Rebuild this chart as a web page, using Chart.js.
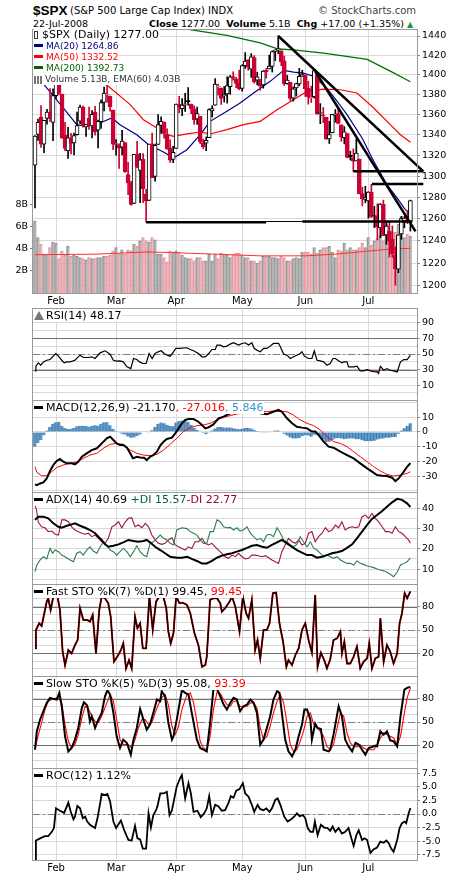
<!DOCTYPE html>
<html lang="en">
<head>
<meta charset="UTF-8">
<title>$SPX Daily - 22-Jul-2008</title>
<script src="https://cdn.jsdelivr.net/npm/chart.js@4.4.1/dist/chart.umd.min.js"></script>
<style>
  * { margin: 0; padding: 0; box-sizing: border-box; }
  body { width: 460px; height: 880px; background: #fff; position: relative; overflow: hidden;
         font-family: 'DejaVu Sans', sans-serif; color: #000; }
  canvas { position: absolute; left: 0; }
  .t { position: absolute; white-space: nowrap; }
  .leg { position: absolute; left: 34px; white-space: nowrap; z-index: 5; }
  .leg > div { display: table; background: #fff; padding-right: 1px; }
  .big { font-size: 11px; line-height: 12px; }
  .sm { font-size: 9px; line-height: 11px; }
  .dash { display: inline-block; width: 9px; height: 3px; background: #000; vertical-align: middle; margin: 0 3px 2px 0; }
  .ico { display: inline-block; width: 9px; height: 8px; margin-right: 2px; vertical-align: middle;
         background: repeating-linear-gradient(90deg, #777 0 2px, transparent 2px 3px); }
  .tri { display: inline-block; width: 0; height: 0; border-left: 5px solid transparent; border-right: 5px solid transparent;
         border-bottom: 9px solid #777; margin-right: 2px; vertical-align: -1px; }
</style>
</head>
<body>
<div class="t" style="left:33px;top:3px;font-family:'Liberation Sans',sans-serif;font-size:13.5px;font-weight:bold">$SPX</div>
<div class="t" style="left:70px;top:5px;font-size:10px">(S&amp;P 500 Large Cap Index) INDX</div>
<div class="t" style="left:318px;top:5px;font-size:10px;color:#444">&copy; StockCharts.com</div>
<div class="t" style="left:33px;top:18px;font-size:9.5px">22-Jul-2008</div>
<div class="t" style="left:149px;top:18px;font-size:9.5px"><b>Close</b> 1277.00 &nbsp;<b>Volume</b> 5.1B &nbsp;<b>Chg</b> +17.00 (+1.35%) <span style="color:#1a9a3a;font-size:8px">&#9650;</span></div>

<canvas id="cMain" width="460" height="288" style="top:20px"></canvas>
<canvas id="cRsi" width="460" height="93" style="top:308px"></canvas>
<canvas id="cMacd" width="460" height="93" style="top:400px"></canvas>
<canvas id="cAdx" width="460" height="93" style="top:492px"></canvas>
<canvas id="cFast" width="460" height="93" style="top:584px"></canvas>
<canvas id="cSlow" width="460" height="93" style="top:676px"></canvas>
<canvas id="cRoc" width="460" height="112" style="top:768px"></canvas>

<div class="leg" style="top:29px">
  <div class="big"><span class="ico" style="background:none;border:1px solid #333;width:4px;margin-right:4px"></span>$SPX (Daily) 1277.00</div>
  <div class="sm" style="color:#000080"><span class="dash" style="background:#000080"></span>MA(20) 1264.86</div>
  <div class="sm" style="color:#ff0000"><span class="dash" style="background:#ff0000"></span>MA(50) 1332.52</div>
  <div class="sm" style="color:#006400"><span class="dash" style="background:#006400"></span>MA(200) 1392.73</div>
  <div class="sm" style="color:#333"><span class="ico"></span>Volume 5.13B, EMA(60) 4.03B</div>
</div>
<div class="leg" style="top:310px"><div class="big"><span class="tri"></span>RSI(14) 48.17</div></div>
<div class="leg" style="top:402px"><div class="big"><span class="dash"></span>MACD(12,26,9) -21.170<span style="color:#ff0000">, -27.016</span><span style="color:#3399cc">, 5.846</span></div></div>
<div class="leg" style="top:494px"><div class="big"><span class="dash"></span>ADX(14) 40.69 <span style="color:#006633">+DI 15.57</span> <span style="color:#990033">-DI 22.77</span></div></div>
<div class="leg" style="top:586px"><div class="big"><span class="dash"></span>Fast STO %K(7) %D(1) 99.45, <span style="color:#ff0000">99.45</span></div></div>
<div class="leg" style="top:678px"><div class="big"><span class="dash"></span>Slow STO %K(5) %D(3) 95.08, <span style="color:#ff0000">93.39</span></div></div>
<div class="leg" style="top:770px"><div class="big"><span class="dash"></span>ROC(12) 1.12%</div></div>

<script>
// trading days are numbered 0 (23-Jan-2008) .. 125 (22-Jul-2008)
const monthTicks = [7, 27, 47, 69, 90, 111];
const monthLabels = ['Feb', 'Mar', 'Apr', 'May', 'Jun', 'Jul'];
const prevClose = 1310.5;

const open = [
  1310.4, 1340.1, 1357.3, 1330.7, 1355.9, 1362.2, 1352.0, 1378.6, 1395.4, 1380.3,
  1339.5, 1324.0, 1336.9, 1331.9, 1340.0, 1353.1, 1367.3, 1347.5, 1355.9, 1348.4,
  1362.2, 1344.2, 1352.8, 1371.8, 1379.0, 1378.2, 1364.1, 1330.5, 1329.6, 1327.7,
  1332.2, 1301.5, 1293.2, 1274.4, 1321.1, 1305.3, 1316.1, 1283.2, 1277.2, 1331.0,
  1299.7, 1330.3, 1349.1, 1352.4, 1340.3, 1327.0, 1315.9, 1326.4, 1370.0, 1365.7,
  1369.9, 1373.7, 1370.2, 1365.5, 1355.4, 1358.0, 1332.2, 1331.7, 1337.0, 1363.4,
  1369.0, 1387.7, 1386.4, 1378.4, 1380.5, 1387.8, 1398.0, 1395.6, 1391.2, 1386.0,
  1409.2, 1415.3, 1405.6, 1417.5, 1394.3, 1394.9, 1389.4, 1404.4, 1405.7, 1408.4,
  1423.9, 1425.3, 1424.5, 1414.1, 1390.8, 1392.2, 1376.0, 1386.5, 1390.5, 1398.4,
  1399.6, 1386.4, 1376.3, 1377.5, 1400.1, 1360.8, 1359.0, 1357.1, 1335.8, 1341.8,
  1358.9, 1360.7, 1349.6, 1336.9, 1341.0, 1319.8, 1317.2, 1314.5, 1316.3, 1283.6,
  1278.1, 1276.7, 1285.0, 1263.0, 1262.9, 1251.8, 1273.4, 1245.3, 1248.7, 1241.6,
  1226.8, 1214.6, 1246.3, 1258.2, 1261.8, 1257.1
];
const high = [
  1339.1, 1355.2, 1368.6, 1354.0, 1364.9, 1385.9, 1385.6, 1396.0, 1395.4, 1380.3,
  1352.0, 1347.2, 1341.2, 1341.4, 1362.1, 1369.2, 1368.2, 1350.0, 1367.3, 1363.7,
  1367.9, 1354.3, 1374.4, 1387.3, 1388.3, 1378.2, 1364.1, 1335.1, 1331.0, 1344.2,
  1332.2, 1313.2, 1295.0, 1320.7, 1333.3, 1321.7, 1321.5, 1287.5, 1330.7, 1341.5,
  1330.7, 1359.7, 1357.5, 1352.4, 1345.6, 1334.9, 1328.5, 1370.2, 1378.0, 1375.7,
  1380.9, 1386.7, 1370.2, 1368.4, 1367.2, 1358.0, 1335.6, 1337.7, 1365.5, 1368.6,
  1395.9, 1390.2, 1386.4, 1387.8, 1397.7, 1399.1, 1402.9, 1397.0, 1404.6, 1410.1,
  1422.7, 1415.3, 1421.6, 1419.5, 1402.4, 1394.9, 1404.1, 1406.3, 1420.2, 1424.4,
  1425.8, 1440.2, 1424.5, 1419.1, 1399.1, 1392.2, 1387.4, 1391.3, 1406.3, 1404.5,
  1399.6, 1393.1, 1388.2, 1404.4, 1400.1, 1370.6, 1366.8, 1357.1, 1353.0, 1360.0,
  1364.7, 1366.6, 1349.6, 1347.7, 1341.0, 1323.8, 1326.0, 1335.6, 1316.3, 1289.5,
  1290.3, 1285.3, 1292.2, 1271.5, 1274.0, 1274.2, 1277.4, 1257.7, 1257.3, 1253.5,
  1234.4, 1245.5, 1262.3, 1262.2, 1267.7, 1277.4
];
const low = [
  1270.0, 1334.3, 1327.5, 1322.3, 1350.3, 1353.0, 1334.1, 1375.9, 1379.7, 1336.6,
  1324.3, 1316.8, 1321.1, 1320.3, 1339.4, 1350.8, 1347.3, 1338.1, 1345.0, 1336.8,
  1339.3, 1327.0, 1346.0, 1363.3, 1372.0, 1363.2, 1325.4, 1320.0, 1307.4, 1320.2,
  1303.4, 1282.4, 1272.7, 1274.4, 1307.9, 1274.9, 1274.9, 1257.0, 1277.2, 1298.4,
  1295.2, 1330.3, 1341.2, 1336.4, 1325.7, 1313.0, 1312.8, 1326.4, 1361.6, 1358.7,
  1362.8, 1369.0, 1360.6, 1350.0, 1350.1, 1331.2, 1326.2, 1324.3, 1337.0, 1357.3,
  1369.0, 1379.3, 1369.8, 1372.2, 1371.1, 1380.0, 1394.4, 1386.7, 1384.5, 1383.1,
  1406.3, 1404.4, 1397.1, 1391.2, 1389.4, 1384.1, 1386.2, 1396.3, 1405.7, 1402.6,
  1414.4, 1421.6, 1409.1, 1388.8, 1390.2, 1373.7, 1373.1, 1378.2, 1388.6, 1398.1,
  1377.8, 1370.1, 1371.7, 1376.2, 1359.9, 1350.7, 1351.6, 1335.5, 1331.3, 1341.7,
  1352.1, 1350.5, 1333.4, 1330.9, 1317.5, 1315.3, 1304.4, 1314.5, 1283.2, 1272.0,
  1274.9, 1260.7, 1261.5, 1252.0, 1240.7, 1242.8, 1244.6, 1236.8, 1225.4, 1225.0,
  1200.4, 1211.4, 1241.4, 1251.8, 1255.7, 1248.8
];
const close = [
  1338.6, 1352.1, 1330.6, 1354.0, 1362.3, 1355.8, 1378.6, 1395.4, 1380.8, 1336.6,
  1326.5, 1336.9, 1331.3, 1339.1, 1348.9, 1367.2, 1348.9, 1350.0, 1348.8, 1360.0,
  1342.5, 1353.1, 1371.8, 1381.3, 1380.0, 1367.7, 1330.6, 1331.3, 1326.8, 1333.7,
  1304.3, 1293.4, 1273.4, 1320.7, 1308.8, 1315.5, 1288.1, 1276.6, 1330.7, 1298.4,
  1329.5, 1349.9, 1353.0, 1341.1, 1325.8, 1315.2, 1322.7, 1370.2, 1367.5, 1369.3,
  1370.4, 1372.5, 1365.5, 1354.5, 1360.6, 1332.8, 1328.3, 1334.4, 1364.7, 1365.6,
  1390.3, 1388.2, 1375.9, 1379.9, 1388.8, 1397.8, 1396.4, 1390.9, 1385.6, 1409.3,
  1413.9, 1407.5, 1418.3, 1392.6, 1397.7, 1388.3, 1403.6, 1403.0, 1408.7, 1423.6,
  1425.4, 1426.6, 1413.4, 1390.7, 1394.4, 1375.9, 1385.4, 1390.8, 1398.3, 1400.4,
  1385.7, 1377.7, 1377.2, 1404.1, 1360.7, 1361.8, 1358.4, 1335.5, 1339.9, 1360.0,
  1360.1, 1350.9, 1337.8, 1342.8, 1317.9, 1318.0, 1314.3, 1322.0, 1283.2, 1278.4,
  1280.0, 1284.9, 1261.5, 1262.9, 1252.3, 1273.7, 1244.7, 1253.4, 1239.5, 1228.3,
  1214.9, 1245.4, 1260.3, 1260.7, 1260.0, 1277.0
];
// volume in billions
const volume = [
  6.5, 5.0, 4.4, 3.5, 3.5, 4.1, 4.6, 4.5, 3.1, 3.8,
  3.4, 4.2, 3.3, 3.4, 3.3, 3.2, 3.1, 3.0, 3.2, 3.1,
  3.1, 3.2, 3.2, 3.3, 3.3, 3.4, 3.8, 4.1, 3.5, 3.9,
  3.5, 3.9, 3.8, 4.4, 4.2, 4.7, 5.0, 4.7, 4.6, 5.0,
  4.8, 3.5, 3.5, 3.2, 2.8, 3.8, 3.7, 3.8, 3.7, 3.4,
  3.2, 3.1, 3.1, 2.9, 3.2, 3.2, 2.9, 2.9, 3.5, 2.9,
  3.5, 3.1, 3.6, 3.5, 3.4, 3.2, 3.5, 3.6, 3.6, 3.4,
  3.2, 3.2, 2.9, 2.9, 2.7, 2.9, 3.3, 3.3, 3.3, 3.2,
  3.2, 3.1, 3.3, 3.2, 2.9, 2.9, 3.1, 3.2, 3.1, 3.7,
  3.7, 3.7, 3.5, 4.1, 3.6, 3.9, 4.1, 4.1, 4.2, 3.7,
  3.2, 3.9, 3.8, 4.5, 3.9, 4.1, 3.9, 3.9, 4.1, 4.5,
  4.1, 5.0, 4.3, 4.7, 4.9, 5.2, 4.7, 6.2, 5.4, 5.5,
  5.5, 6.2, 6.9, 5.0, 5.3, 5.13
];
const volEma = [[0, 3.45], [20, 3.5], [37, 3.7], [45, 3.65], [60, 3.5], [75, 3.35], [90, 3.35], [100, 3.5], [110, 3.75], [118, 3.95], [125, 4.03]];

// moving averages as [day, value]
const ma20 = [[0, 1400], [3, 1389.7], [9.4, 1366.3], [13.9, 1349.7], [17.2, 1348.1], [22.2, 1352.1], [25.6, 1356.3], [28.3, 1349.7],
  [33.9, 1339.9], [37.8, 1330.1], [42.8, 1323.1], [46.1, 1317.3], [50.6, 1325.3], [55, 1339.9], [58.3, 1353.0], [63.9, 1363.0],
  [68.3, 1371.3], [72.8, 1381.3], [78.3, 1393.1], [82.8, 1404.4], [86.1, 1402.6], [89.4, 1401.6], [92.8, 1398.2], [97.2, 1386.3],
  [100.6, 1373.0], [103.9, 1359.6], [108.9, 1336.7], [112.8, 1314.1], [117.2, 1291.8], [120.6, 1279.3], [123.3, 1268.5], [125, 1264.86]];
const ma50 = [[18, 1402], [24.4, 1388.1], [31.7, 1369.6], [36.1, 1354.6], [40.6, 1346.4], [43.3, 1340.6], [46.1, 1338.3], [50.6, 1340.6],
  [55, 1342.5], [58.3, 1340.6], [63.9, 1344.8], [69.4, 1349.7], [75, 1353.0], [80.6, 1364.5], [86.1, 1374.6], [90.6, 1383.0],
  [96.1, 1385.3], [101.7, 1384.6], [107.2, 1381.3], [112.8, 1366.3], [118.3, 1349.7], [121.7, 1339.9], [125, 1332.52]];
const ma200 = [[47, 1449], [63.9, 1440.7], [75, 1432.7], [81, 1426.4], [86.1, 1425.6], [96.1, 1422.2], [107.2, 1417.1],
  [110.6, 1415.7], [118.3, 1403.5], [125, 1392.73]];

// hand drawn trend lines [day, price]
const trendA = [[81, 1440], [129.3, 1304.5]];
const trendB = [[93.3, 1403.4], [126.7, 1248.6]];
const level1305 = [[106, 1304.5], [129.3, 1304.5]];
const level1292 = [[112.2, 1292.5], [129.3, 1292.5]];
const support1 = [[37, 1257], [77, 1257]];
const support2 = [[77, 1257.6], [89, 1257.6]];
const support3 = [[89, 1257.6], [125.6, 1257.6]];

const rsi = [[0, 28.3], [0.3, 34.3], [1.1, 38.6], [1.9, 35.6], [2.8, 39.9], [3.9, 42], [5, 42.9], [6.1, 47.2], [6.9, 50.6], [7.8, 47.2],
  [8.9, 42], [9.7, 38.6], [10.6, 39.9], [11.7, 39.9], [13.3, 42], [15, 48.5], [16.1, 45.5], [17.8, 45.5], [18.9, 46.4], [20, 44.2],
  [21.7, 51.5], [23.3, 54.1], [25, 49.8], [26.1, 42], [27.2, 40.8], [28.3, 41.2], [29.4, 39.9], [30.6, 33.5], [31.9, 31.3], [32.8, 44.2],
  [33.9, 42.9], [34.8, 39.9], [35.9, 37.8], [37, 37.8], [38, 50.6], [39, 44.2], [40, 50.6], [41, 52.8], [42, 54.1], [43, 50.6],
  [44, 48.5], [45, 47.2], [46.1, 52.8], [46.9, 57.1], [48.3, 57.1], [50.6, 58], [51.7, 55.8], [52.8, 54.1], [54.4, 50.6], [55.6, 46.4],
  [56.7, 46.4], [57.8, 50.6], [58.9, 55.8], [60, 55.8], [60.6, 61.4], [61.7, 61.4], [62.8, 59.2], [63.9, 60.1], [65, 62.7], [66.1, 64.4],
  [67.8, 61.4], [68.9, 63.5], [70, 64.4], [71.1, 61.4], [72.2, 64.4], [73, 57.1], [73.9, 55], [75, 52.8], [76.1, 57.1], [77.2, 57.1],
  [78.3, 60.1], [79.4, 63.5], [81.1, 63.5], [81.7, 59.2], [82.8, 49.8], [83.9, 48.5], [85, 44.2], [86.1, 46.4], [87.2, 48.5], [88.3, 50.6],
  [88.9, 52.8], [89.7, 47.2], [91.1, 44.2], [92.2, 44.2], [93, 54.1], [93.9, 42], [95, 41.2], [96.1, 39.9], [97.2, 35.6], [98.3, 37.8],
  [99.2, 44.2], [100, 44.2], [101.1, 41.2], [102.2, 38.6], [102.8, 39.9], [103.9, 39.9], [104.4, 33.5], [106.1, 33.5], [107.2, 34.3],
  [108.3, 28.3], [109.4, 28.3], [110.6, 30], [111.7, 28.3], [112.8, 27.5], [113.9, 27], [114.4, 24.9], [115, 34.3], [116.1, 29.2],
  [117.2, 31.3], [118.3, 29.2], [119.4, 28.3], [120.6, 27], [121.7, 39.9], [122.8, 42.9], [123.9, 42.9], [125, 48.17]];

const macd = [[0, -35.5], [0.6, -36], [1.7, -34.9], [2.8, -34.2], [3.9, -31.5], [5, -26.5], [6.1, -22.4], [7.2, -19.7], [8.3, -18.4],
  [9.4, -20.2], [10.6, -21.3], [12.2, -21.3], [13.3, -22], [14.4, -20.2], [15.6, -16.8], [17.2, -14.5], [18.9, -12.3], [20.6, -11.1],
  [21.7, -8.9], [22.8, -6.6], [23.9, -4.4], [25, -3.2], [26.1, -5.5], [27.2, -7.8], [28.3, -8.9], [29.4, -8.9], [30.6, -10.7],
  [31.7, -14.5], [32.6, -17.9], [33.9, -16.8], [35, -17.3], [36.3, -17.5], [37.2, -19.1], [38.3, -16.8], [39.4, -15.7], [40.6, -13.4],
  [41.7, -9.3], [42.8, -6.6], [43.9, -4.8], [45.6, -3.9], [46.7, -1], [47.8, 2.4], [48.9, 5.8], [50, 8.1], [51.1, 8.7], [52.8, 8.7],
  [54.4, 6.9], [55.6, 4.7], [56.7, 2.4], [57.8, 3.1], [59.4, 5.1], [61.1, 9.2], [62.8, 10.3], [65, 12.6], [67.5, 14.5], [70.5, 15.5],
  [73, 15], [75, 12.6], [77.2, 11.9], [78.9, 13.3], [81.1, 14.9], [82.2, 13.7], [83.9, 9.2], [85.6, 5.8], [87.2, 3.5], [88.9, 2.9],
  [90.6, 2.4], [92.2, 0.2], [93.3, 0.2], [94.4, -2.1], [96.1, -6.6], [97.8, -10], [99.4, -10.7], [101.7, -13.4], [103.9, -15.7],
  [106.1, -17.9], [108.3, -21.3], [110.6, -24.7], [112.2, -26.9], [113.9, -29.2], [115.6, -29.7], [117.2, -29.9], [118.9, -31],
  [120, -33.3], [121.1, -31.5], [122.8, -26.9], [123.9, -23.6], [125, -21.17]];
const macdSignal = [[0, -23.6], [0.6, -27.4], [2.2, -29.7], [3.9, -29.7], [5.6, -26.9], [7.2, -24.2], [9.4, -22.4], [11.7, -21.3],
  [13.9, -20.2], [16.1, -17.9], [18.3, -15.7], [20.6, -14.5], [22.8, -11.1], [25, -8.4], [27.2, -7.8], [29.4, -8.4], [31.7, -12.3],
  [33.9, -14.5], [36.1, -15.7], [38.3, -16.1], [40.6, -15.2], [42.8, -12.3], [45, -8.4], [47.2, -4.4], [49.4, 0.2], [51.7, 2.9],
  [53.9, 4.2], [56.1, 4.7], [58.3, 5.8], [60.6, 8.1], [62.8, 9.9], [65, 11], [67.2, 12.1], [69.4, 12.6], [71.1, 13.3], [74, 13.6],
  [77.2, 13.7], [79.4, 14.2], [81.7, 13.7], [83.9, 13.7], [86.1, 11.4], [88.3, 8.1], [90.6, 5.8], [92.8, 4.2], [95, 1.3], [97.2, -3.2],
  [99.4, -6.6], [101.7, -7.8], [103.9, -10], [106.1, -13.4], [108.3, -16.8], [110.6, -20.2], [112.8, -23.6], [115, -26.5],
  [117.2, -28.8], [119.4, -29.9], [121.7, -29.2], [123.9, -28.1], [125, -27.02]];
const macdHist = [
  -10, -7.5, -5.5, -2.3, 1.0, 3.4, 5.5, 6.6, 6.8, 4.0,
  2.7, 1.9, 2.2, 2.6, 3.8, 4.1, 4.1, 4.0, 3.5, 4.1,
  4.5, 4.2, 5.5, 6.6, 6.5, 4.5, 2.2, 0.6, -0.5, -1.2,
  -1.8, -3.2, -4.0, -3.8, -2.8, -1.8, 0.0, 0.3, -0.3, 1.1,
  3.4, 5.5, 6.3, 5.8, 4.8, 4.0, 3.8, 6.3, 7.3, 7.7,
  7.7, 6.9, 4.8, 2.6, 1.4, 0.2, -0.8, -1.6, -0.3, 1.0,
  2.3, 3.4, 3.4, 3.0, 2.9, 2.9, 2.5, 2.2, 1.8, 2.2,
  2.7, 2.7, 2.3, 1.4, 0.6, -0.3, -0.5, -0.5, -0.3, 0.2,
  0.9, 0.9, 0.2, -1.2, -2.5, -3.8, -4.4, -4.5, -4.2, -3.0,
  -2.3, -2.5, -3.3, -2.0, -2.0, -3.5, -5.2, -6.8, -6.7, -5.6,
  -4.5, -4.2, -4.4, -4.9, -4.7, -4.5, -4.5, -4.9, -5.0, -5.7,
  -6.3, -6.3, -6.3, -6.0, -5.2, -4.6, -4.5, -4.0, -3.9, -3.4,
  -3.4, -1.3, 0.9, 2.5, 4.2, 5.85
];

const adx = [[0, 34.3], [1.1, 35.9], [2.8, 35.9], [4.4, 35.1], [6.1, 32.6], [7.8, 30.9], [8.9, 30.4], [10.6, 31.4], [12.2, 32.1],
  [13.3, 32.6], [15, 31.4], [16.7, 30.4], [18.3, 29.3], [20, 27.7], [21.1, 26], [22.2, 24.4], [23.3, 22.2], [24.4, 21], [26.1, 21.5],
  [27.8, 22.2], [29.4, 23.2], [31.1, 24.4], [32.8, 23.9], [34.4, 23.5], [36.1, 23.9], [37.2, 24.4], [38.3, 23.2], [40, 21], [41.7, 19.4],
  [43.3, 17.8], [45, 16.1], [47.2, 15.6], [48.9, 15.6], [50.6, 16.1], [52.2, 15], [53.9, 14], [55.6, 12.8], [57.2, 12.8], [58.9, 14],
  [60.6, 15.6], [62.2, 16.6], [63.9, 17.3], [65.6, 17.8], [67.2, 18.6], [68.9, 19.4], [70.6, 20.5], [72.2, 21.5], [73.9, 21.9],
  [75.6, 21], [77.2, 20.5], [78.9, 21.9], [80.6, 23.2], [82.2, 24.4], [83.9, 22.7], [85.6, 21], [87.2, 19.4], [88.9, 18.1], [90.6, 16.9],
  [92.2, 16.9], [93.9, 15.6], [95.6, 16.1], [97.2, 16.9], [98.9, 17.8], [100.6, 18.3], [102.2, 18.9], [103.9, 20.5], [105.6, 22.2],
  [107.2, 25.2], [108.9, 28.5], [110.6, 31.8], [112.2, 34.8], [113.9, 36.7], [115.6, 38.7], [117.2, 40.8], [118.9, 43], [120.6, 44.7],
  [122.2, 44.2], [123.9, 42.5], [125, 40.69]];
const plusDI = [[0, 8.7], [0.6, 12], [1.7, 14.5], [2.8, 16.1], [3.9, 15], [5, 20.2], [5.9, 17.8], [6.7, 19.4], [7.8, 18.6], [8.9, 16.9],
  [10, 16.1], [11.7, 14.5], [12.8, 13.6], [13.9, 17.8], [15, 18.6], [16.1, 16.9], [17.2, 19.4], [18.3, 21], [19.4, 18.9], [20.6, 17.8],
  [21.7, 21], [22.8, 23.5], [23.9, 21.9], [25, 19.4], [26.1, 18.6], [27.2, 16.9], [28.3, 18.6], [29.4, 20.2], [30.6, 18.6], [31.7, 16.1],
  [32.8, 18.6], [33.9, 21.5], [35, 18.6], [36.1, 16.9], [37.2, 16.1], [38.3, 22.7], [39.4, 23.5], [40.6, 25.2], [41.7, 26.8], [42.8, 25.2],
  [43.9, 24.4], [45, 22.7], [46.1, 21.9], [47.2, 29.3], [48.9, 30.4], [50.6, 30], [51.7, 28.5], [52.8, 27.7], [53.9, 26.8], [55, 24.4],
  [56.1, 22.7], [57.2, 22.7], [58.3, 28.5], [59.4, 28.5], [60.6, 34.3], [61.7, 33.4], [62.8, 30.9], [63.9, 30.4], [65, 30.6], [66.1, 29.3],
  [67.2, 30.4], [68.3, 28.8], [69.4, 29.3], [70.6, 30.9], [71.7, 27.7], [72.8, 26], [73.9, 24.4], [75, 25.2], [76.1, 23.5], [77.2, 26.8],
  [78.3, 27.2], [79.4, 26], [80.6, 30.4], [81.7, 27.7], [82.8, 24.4], [83.9, 23.5], [85, 21.9], [86.1, 21], [87.2, 22.2], [88.3, 26],
  [89.4, 23.5], [90.6, 21], [91.7, 23.5], [92.8, 20.2], [93.9, 19.4], [95, 17.8], [96.1, 16.1], [97.2, 16.9], [98.3, 16.1], [99.4, 15.3],
  [100.6, 16.1], [101.7, 14.5], [102.8, 13.6], [103.9, 12.8], [105, 12.8], [106.1, 12], [107.2, 14], [108.3, 12.8], [109.4, 12.3],
  [110.6, 11.5], [111.7, 11.1], [112.8, 10.7], [113.9, 10], [115, 9.5], [116.1, 9.1], [117.2, 8.4], [118.3, 7.4], [119.4, 6.2],
  [120.6, 8.4], [121.7, 12], [122.8, 12.8], [123.9, 13.6], [125, 15.57]];
const minusDI = [[0, 41.7], [0.5, 39.2], [1.1, 33.1], [2.2, 30.9], [3.3, 30.4], [4.4, 28.5], [5.6, 28.8], [6.7, 27.2], [7.8, 26.8],
  [8.9, 34.3], [10, 34.3], [11.1, 33.4], [12.2, 30.9], [13.3, 29.3], [14.4, 28.5], [15.6, 27.7], [16.7, 27.2], [17.8, 27.7], [18.9, 26],
  [20, 26.8], [21.1, 25.2], [22.2, 23.5], [23.3, 22.7], [24.4, 25.2], [25.6, 30.9], [26.7, 31.8], [27.8, 33.4], [28.9, 30.4], [30, 33.1],
  [31.1, 35.1], [32.2, 35.4], [33.3, 30.9], [34.4, 31.8], [35.6, 30.4], [36.7, 32.6], [37.8, 30.9], [38.9, 26.8], [40, 24.4], [41.1, 22.7],
  [42.2, 22.2], [43.3, 22.7], [44.4, 24.4], [45.6, 25.5], [46.7, 21.9], [47.8, 21], [48.9, 20.2], [50, 19.4], [51.1, 21], [52.2, 20.2],
  [53.3, 23.5], [54.4, 23.5], [55.6, 25.2], [56.7, 22.7], [57.8, 21.9], [58.9, 22.7], [60, 21], [61.1, 19.4], [62.2, 17.8], [63.3, 16.1],
  [64.4, 15.3], [65.6, 16.9], [66.7, 16.1], [67.8, 17.8], [68.9, 16.1], [70, 15], [71.1, 15.3], [72.2, 16.9], [73.3, 16.9], [74.4, 16.6],
  [75.6, 16.1], [76.7, 16.6], [77.8, 15.6], [78.9, 14.5], [80, 13.6], [81.1, 12.8], [82.2, 18.6], [83.3, 21.9], [84.4, 25.2], [85.6, 23.5],
  [86.7, 22.7], [87.8, 24.4], [88.9, 21.9], [90, 22.7], [91.1, 27.7], [92.2, 28.5], [93.3, 23.5], [94.4, 26], [95.6, 27.7], [96.7, 30.4],
  [97.8, 28.5], [98.9, 29.3], [100, 31.8], [101.1, 30.4], [102.2, 33.4], [103.3, 29.3], [104.4, 30.4], [105.6, 30.9], [106.7, 30.4],
  [107.8, 30.9], [108.9, 35.9], [110, 36.7], [111.1, 35.1], [112.2, 37.5], [113.3, 35.1], [114.4, 33.4], [115.6, 30.9], [116.7, 28.5],
  [117.8, 28.5], [118.9, 27.7], [120, 30.9], [121.1, 28.5], [122.2, 27.7], [123.3, 26], [124.4, 24.4], [125, 22.77]];

const fastK = [[0, 26.4], [0.3, 50], [1.4, 58.6], [2.2, 55.1], [3.1, 71.5], [3.9, 86.4], [4.4, 90.7], [5.2, 75.7], [6.1, 92.8], [6.7, 95],
  [7.4, 95], [8.3, 75.7], [9.2, 22.1], [10, 5], [11.1, 24.3], [12.2, 20], [13.3, 30.7], [14.2, 37.1], [15, 77.9], [16.1, 62.9],
  [17.4, 62.9], [18.3, 60.7], [19.2, 69.3], [20.3, 20], [21.4, 75.7], [22.2, 92.8], [23.3, 90.7], [24.4, 84.3], [25.2, 67.1], [26.3, 9.3],
  [27.4, 15.7], [28.6, 24.3], [29.4, 32.9], [30.3, 0.7], [31.3, 11.4], [32.2, 0.7], [33.3, 67.1], [34.1, 52.2], [35, 58.6], [35.9, 26.4],
  [37, 26.4], [38.1, 92.8], [39.2, 50], [40.3, 86.4], [41.4, 92.8], [42.6, 95], [43.7, 77.9], [44.4, 47.9], [45.2, 32.9], [46.1, 45.8],
  [47, 92.8], [48.1, 84.3], [49.2, 85.1], [50.6, 82.1], [51.7, 71.5], [53.1, 45.8], [54.4, 30.7], [55.6, 2.9], [56.7, 5], [57.2, 15.7],
  [58.3, 88.6], [59.4, 90.7], [60.6, 90.7], [61.7, 84.3], [62.2, 73.5], [63.3, 77.9], [64.8, 86.4], [65.6, 92.8], [66.7, 80], [68.1, 47.9],
  [69.2, 92.8], [70.3, 71.5], [71.1, 65], [72.2, 88.6], [73.3, 24.3], [74.1, 37.1], [75, 13.6], [76.1, 50], [77.2, 50], [78.1, 58.6],
  [79.2, 97.2], [80.3, 98], [81.4, 58.6], [82.6, 35], [83.7, 2.9], [84.4, 11.4], [85.6, 5], [86.7, 17.9], [87.8, 26.4], [88.9, 50],
  [90, 58.6], [91.1, 37.1], [92.2, 20.8], [93.3, 95], [94.1, 2.9], [95.2, 20.8], [96.3, 11.4], [97.2, 0.7], [98.3, 12.3], [99.4, 37.1],
  [100.6, 39.3], [101.7, 47.9], [102.2, 20], [103, 35], [103.9, 7.1], [105, 7.1], [106.1, 15.7], [107.2, 28.6], [108.3, 0.7], [109.4, 9.3],
  [110.6, 13.6], [111.3, 32.9], [112.2, 0.7], [113.3, 13.6], [114.4, 15.7], [115, 65], [116.1, 9.3], [117.2, 30.7], [118.3, 22.1],
  [119.4, 7.1], [120.6, 20], [121.4, 58.6], [122.2, 71.5], [123.1, 97.2], [123.9, 90.7], [125, 99.45]];

const slowK = [[0, 14.5], [0.6, 38], [1.7, 53.1], [2.8, 63.8], [3.9, 74.5], [5, 81], [6.1, 79.7], [7.2, 78.8], [8.1, 87.4], [8.9, 70.2],
  [10, 31.6], [11.1, 12.3], [12.2, 16.7], [13.3, 27.4], [14.4, 42.4], [15.6, 68.1], [16.3, 75.3], [17.4, 71.1], [18.3, 50.9], [18.9, 57.3],
  [20, 42.4], [21.1, 53.1], [22.2, 61.7], [23.3, 83], [24.1, 90.7], [25, 85.2], [26.1, 61.7], [27.2, 31.6], [28.3, 16.7], [29.4, 27.4],
  [30.6, 23.1], [31.9, 8.1], [32.8, 27.4], [33.9, 42.4], [35, 66.8], [36.1, 53.1], [37.2, 40.2], [38.3, 46.7], [39.4, 61.7], [40.6, 78.8],
  [41.7, 76.6], [42.2, 89.5], [43.3, 83], [44.4, 48.8], [45.6, 27.4], [46.1, 31.6], [47.2, 53.1], [48.9, 90.7], [50, 87.4], [51.1, 85.2],
  [52.2, 61.7], [53.9, 27.4], [55, 16.7], [56.1, 14.5], [57.2, 12.3], [58.3, 48.8], [59.4, 91.6], [60.6, 92.5], [61.7, 83], [62.8, 72.4],
  [63.9, 65.9], [65, 74.5], [66.1, 81], [67.2, 78.8], [68.3, 63.8], [69.4, 70.2], [70.6, 72.4], [71.7, 78.8], [72.8, 74.5], [73.9, 61.7],
  [75, 21], [76.1, 27.4], [77.2, 42.4], [78.3, 57.3], [79.4, 78.8], [80.6, 89.5], [81.4, 87.4], [82.2, 61.7], [83.3, 27.4], [84.4, 12.3],
  [85.6, 5.9], [86.7, 14.5], [87.8, 31.6], [88.9, 46.7], [89.7, 65.9], [90.6, 65.9], [91.7, 53.1], [92.2, 27.4], [93.3, 47.9], [94.1, 42.4],
  [95.2, 41.1], [96.1, 14.5], [97.8, 12.3], [98.3, 14.5], [99.4, 33.8], [100.6, 59.5], [101.1, 70.2], [102.2, 57.3], [103.3, 27.4],
  [104.4, 18.8], [105.6, 12.3], [106.7, 23.1], [107.8, 21], [108.9, 14.5], [110, 8.1], [111.1, 16.7], [112.2, 18], [113.3, 19.7],
  [113.9, 18.8], [115, 38], [116.1, 33.8], [117.2, 38], [118.3, 26.5], [119.4, 25.2], [120.6, 18.8], [121.7, 57.3], [123, 91.6],
  [123.9, 93.8], [125, 95.08]];
const slowD = [[0, 14.5], [1.1, 33.8], [2.2, 48.8], [3.3, 65.9], [4.4, 76.6], [6.1, 79.7], [7.8, 81], [8.9, 74.5], [10, 46.7], [11.1, 25.2],
  [12.2, 16.7], [13.3, 21], [14.4, 33.8], [15.6, 55.3], [16.7, 70.2], [17.8, 66.8], [18.9, 57.3], [20, 50.9], [21.1, 49.6], [22.2, 57.3],
  [23.9, 74.5], [25, 85.2], [26.1, 76.6], [27.2, 53.1], [28.3, 27.4], [29.4, 21], [31.1, 21], [32.2, 16.7], [33.3, 27.4], [34.4, 42.4],
  [35.6, 53.1], [36.7, 53.1], [37.8, 46.7], [38.9, 48.8], [40, 61.7], [41.1, 72.4], [42.2, 81], [43.3, 85.2], [44.4, 72.4], [45.6, 44.5],
  [46.7, 33.8], [47.8, 44.5], [48.9, 65.9], [50.6, 85.2], [51.7, 87.4], [52.8, 74.5], [53.9, 50.9], [55, 25.2], [56.1, 16.7], [57.2, 14.5],
  [58.3, 31.6], [59.4, 65.9], [60.6, 88.2], [61.7, 86.5], [62.8, 78.8], [63.9, 72.4], [65, 70.2], [66.1, 76.6], [67.2, 76.6], [68.3, 70.2],
  [69.4, 69.4], [70.6, 70.2], [71.7, 74.5], [72.8, 74.5], [73.9, 68.1], [75, 42.4], [76.1, 27.4], [77.2, 31.6], [78.3, 44.5], [79.4, 61.7],
  [80.6, 76.6], [81.7, 85.2], [82.8, 74.5], [83.9, 48.8], [85, 21], [86.1, 12.3], [87.2, 14.5], [88.3, 25.2], [89.4, 38], [90.6, 57.3],
  [91.7, 61.7], [92.8, 46.7], [93.9, 42.4], [95, 38], [96.1, 31.6], [97.2, 18.8], [98.3, 14.5], [99.4, 21], [100.6, 42.4], [101.7, 61.7],
  [102.8, 57.3], [103.9, 36], [105, 23.1], [106.1, 18.8], [107.2, 18], [108.3, 21], [109.4, 16.7], [110.6, 14.5], [111.7, 14.5],
  [112.8, 14.5], [113.9, 21], [115, 29.6], [116.1, 36], [117.2, 33.8], [118.3, 31.6], [119.4, 29.6], [120.6, 21], [121.7, 31.6],
  [122.8, 57.3], [123.9, 81], [125, 93.39]];

const roc = [[0, -8.4], [0.3, -4.9], [1.7, -4.5], [3.3, -4.1], [4.4, -4.1], [5.6, -3.3], [6.3, -2.6], [7, 1.05], [8.3, 0.6], [9.7, 0.2],
  [11.1, 2.1], [11.9, 0.4], [12.8, -1], [13.3, -0.5], [14.1, 1.5], [15, 1.05], [15.9, -0.8], [16.7, -0.5], [17.4, -1.4], [18.3, -2],
  [20, -2.6], [20.8, -0.8], [21.7, 2], [22.2, 3.7], [23.3, 3.5], [24.1, 3.7], [25, 2.3], [26.1, -1.4], [27, -2.6], [27.8, -1.9],
  [28.6, -1.2], [29.7, -3], [31.1, -4.8], [32.2, -4.9], [33.3, -2.2], [34.1, -4.5], [35, -4.7], [35.9, -6.4], [37, -6.4], [37.8, 0.1],
  [38.6, -2.5], [39.4, -0.2], [40.3, 0.7], [40.8, 1.5], [41.7, 3.8], [42.8, 3.8], [43.9, 4.1], [44.8, -0.2], [45.6, 0.7], [46.3, 2.6],
  [47.2, 5.1], [48.3, 6.6], [48.9, 7.2], [50, 2.9], [51.1, 5.7], [51.9, 3.8], [52.8, 0.4], [54.1, 0.6], [55.2, -0.6], [56.3, 0.1],
  [57.2, 1.05], [58, 3.3], [58.9, -0.2], [60, 1.7], [61.1, 1.4], [62.2, 0.6], [63.3, 0.7], [64.4, 2], [65.2, 3.3], [66.1, 3],
  [67, 4.3], [68.1, 4.6], [69.2, 5.7], [70, 3.8], [71.1, 3.2], [72.2, 1.7], [73, 0.4], [74.1, 1.7], [75, 0.9], [76.1, 0.7],
  [77, 1.05], [78.1, 0.4], [78.9, 1.05], [80, 2.6], [80.8, 2.9], [81.7, 1.7], [83, -0.5], [84.1, -1.4], [85.2, -1], [86.3, -0.5],
  [87.2, 0.1], [88.1, -0.4], [89.2, -0.2], [90, -0.8], [90.8, -2.6], [91.7, -3.3], [92.6, -3.3], [93.2, -1.4], [94.1, -3.9], [95.2, -2],
  [96.3, -2.5], [97.4, -2.6], [98.3, -3.1], [99.1, -2.3], [100, -3.3], [101.1, -2.6], [102.2, -3.6], [103.3, -3.3], [104.4, -2.6],
  [105.2, -4.2], [106.1, -5.9], [107, -3.9], [107.8, -3], [108.9, -4.8], [109.7, -4.5], [110.6, -4.8], [111.7, -7.2], [112.8, -6.5],
  [113.9, -6.2], [115, -5.1], [116.1, -5.3], [117, -4.9], [117.8, -5.4], [118.6, -6.4], [119.4, -7], [120.6, -4.8], [121.4, -2.6],
  [122.2, -1.7], [123.1, -1.4], [123.6, -1.7], [124.4, 0.1], [125, 1.12]];

// ---------- helpers ----------
const FONT = "'DejaVu Sans', sans-serif";
const X_MIN = -0.67, X_MAX = 127.2;
const GRID = '#d9d9d9';
const pts = arr => arr.map(([x, y]) => ({ x, y }));
const range = (a, b, step) => { const out = []; for (let v = a; v <= b + 1e-9; v += step) out.push(+v.toFixed(2)); return out; };

function fit(prop, size) {
  return s => { s[prop] = size; s.paddingTop = s.paddingBottom = s.paddingLeft = s.paddingRight = 0; };
}

function xAxis(showLabels, h) {
  return {
    type: 'linear', min: X_MIN, max: X_MAX, offset: false,
    afterBuildTicks: s => { s.ticks = monthTicks.map(v => ({ value: v })); },
    ticks: { display: showLabels, autoSkip: false, maxRotation: 0, color: '#000', padding: 2,
             font: { family: FONT, size: 10 }, callback: v => monthLabels[monthTicks.indexOf(v)] },
    grid: { color: GRID, drawTicks: false, offset: false },
    border: { display: false },
    afterFit: fit('height', h)
  };
}

function yAxis(min, max, gridVals, labelVals, fmt, type) {
  return {
    type: type || 'linear', position: 'right', min, max,
    afterBuildTicks: s => { s.ticks = gridVals.map(v => ({ value: v })); },
    ticks: { autoSkip: false, color: '#000', padding: 2, font: { family: FONT, size: 9.5 },
             callback: v => labelVals.includes(v) ? fmt(v) : '' },
    grid: { color: GRID, tickLength: 3,
            tickColor: c => (c.tick && labelVals.includes(c.tick.value)) ? '#888' : 'rgba(0,0,0,0)' },
    border: { display: false },
    afterFit: fit('width', 43)
  };
}

// grey frame round each panel
const frame = {
  id: 'frame',
  afterDraw(chart) {
    const { ctx, chartArea: a } = chart;
    ctx.save();
    ctx.strokeStyle = '#9a9a9a';
    ctx.lineWidth = 1;
    ctx.strokeRect(Math.round(a.left) - 0.5, Math.round(a.top) + 0.5, Math.round(a.right - a.left) + 1, Math.round(a.bottom - a.top));
    ctx.restore();
  }
};

// signal levels (30/70, 20/80, zero lines)
const guides = {
  id: 'guides',
  beforeDatasetsDraw(chart, args, opts) {
    const { ctx, chartArea: a, scales: { y } } = chart;
    (opts.lines || []).forEach(g => {
      const py = Math.round(y.getPixelForValue(g.value)) + 0.5;
      ctx.save();
      ctx.strokeStyle = g.color;
      ctx.lineWidth = 1;
      ctx.setLineDash(g.dash || []);
      ctx.beginPath();
      ctx.moveTo(a.left, py);
      ctx.lineTo(a.right, py);
      ctx.stroke();
      ctx.restore();
    });
  }
};

const DASHDOT = [7, 3, 2, 3];

function baseOptions(extra) {
  return Object.assign({
    responsive: false, animation: false, events: [],
    plugins: { legend: { display: false }, tooltip: { enabled: false } },
    layout: { padding: { left: 33, top: 0, bottom: 1, right: 0 } }
  }, extra);
}

function line(data, color, width, extra) {
  return Object.assign({ type: 'line', data: pts(data), borderColor: color, borderWidth: width,
    pointRadius: 0, tension: 0, fill: false }, extra || {});
}

// ---------- main price panel ----------
const isUp = close.map((c, i) => c >= (i ? close[i - 1] : prevClose));
const candleColor = isUp.map(u => u ? '#000000' : '#cc0033');

new Chart(document.getElementById('cMain'), {
  type: 'bar',
  data: {
    datasets: [
      { type: 'bar', yAxisID: 'yv', order: 10, grouped: false, barThickness: 3,
        data: volume.map((v, i) => ({ x: i, y: v })),
        backgroundColor: isUp.map(u => u ? 'rgba(170,170,170,0.85)' : 'rgba(236,170,178,0.85)'),
        borderColor: isUp.map(u => u ? '#8f8f8f' : '#e0909a'), borderWidth: { left: 1, top: 1 } },
      line(volEma, '#ff3030', 1, { yAxisID: 'yv', order: 9 }),
      line(ma200, '#007000', 1.3, { yAxisID: 'y', order: 6 }),
      line(ma50, '#ff0000', 1.2, { yAxisID: 'y', order: 6 }),
      line(ma20, '#00008b', 1.2, { yAxisID: 'y', order: 6 }),
      { type: 'bar', yAxisID: 'y', order: 3, grouped: false, barThickness: 1,
        data: close.map((c, i) => ({ x: i, y: [low[i], high[i]] })),
        backgroundColor: candleColor, borderWidth: 0 },
      { type: 'bar', yAxisID: 'y', order: 2, grouped: false, barThickness: 4,
        data: close.map((c, i) => ({ x: i, y: [open[i], c] })),
        backgroundColor: close.map((c, i) => c > open[i] ? '#ffffff' : candleColor[i]),
        borderColor: candleColor, borderWidth: 1, borderSkipped: false },
      line(trendA, '#000', 2.5, { yAxisID: 'y', order: 0, clip: false }),
      line(trendB, '#000', 2.5, { yAxisID: 'y', order: 0, clip: false }),
      line(level1305, '#000', 2.5, { yAxisID: 'y', order: 0, clip: false }),
      line(level1292, '#000', 2.5, { yAxisID: 'y', order: 0, clip: false }),
      line(support1, '#000', 2.5, { yAxisID: 'y', order: 0 }),
      line(support2, '#000', 1.2, { yAxisID: 'y', order: 0 }),
      line(support3, '#000', 2.5, { yAxisID: 'y', order: 0 })
    ]
  },
  options: baseOptions({
    layout: { padding: { left: 0, top: 9, bottom: 0, right: 0 } },
    scales: {
      x: xAxis(true, 15),
      y: yAxis(1193.6, 1447.4, range(1200, 1440, 20), range(1200, 1440, 20), v => String(v), 'logarithmic'),
      yv: {
        type: 'linear', position: 'left', min: 0, max: 23.8,
        afterBuildTicks: s => { s.ticks = [2, 4, 6, 8].map(v => ({ value: v })); },
        ticks: { autoSkip: false, color: '#000', padding: 2, font: { family: FONT, size: 9.5 }, callback: v => v + 'B' },
        grid: { drawOnChartArea: false, tickLength: 3, tickColor: '#888' },
        border: { display: false },
        afterFit: fit('width', 33)
      }
    }
  }),
  plugins: [frame]
});

// ---------- RSI ----------
new Chart(document.getElementById('cRsi'), {
  type: 'line',
  data: { datasets: [ line(rsi, '#000', 1.2, { fill: { target: { value: 30 }, above: 'rgba(0,0,0,0)', below: '#a8607c' } }) ] },
  options: baseOptions({
    scales: { x: xAxis(false, 0), y: yAxis(-9, 109, range(0, 100, 10), [10, 30, 50, 70, 90], v => String(v)) },
    plugins: { legend: { display: false }, tooltip: { enabled: false },
      guides: { lines: [ { value: 70, color: '#707070' }, { value: 30, color: '#707070' }, { value: 50, color: '#808080', dash: DASHDOT } ] } }
  }),
  plugins: [guides, frame]
});

// ---------- MACD ----------
new Chart(document.getElementById('cMacd'), {
  type: 'bar',
  data: { datasets: [
    line(macd, '#000', 2, { order: 1 }),
    line(macdSignal, '#ff0000', 1, { order: 2 }),
    { type: 'bar', order: 5, grouped: false, barThickness: 3,
      data: macdHist.map((v, i) => ({ x: i, y: v })),
      backgroundColor: '#5b9bd0', borderColor: '#2a5e8c', borderWidth: { left: 1 }, borderSkipped: false }
  ] },
  options: baseOptions({
    scales: { x: xAxis(false, 0), y: yAxis(-40.7, 21.6, range(-40, 20, 10), [-30, -20, -10, 0, 10], v => String(v)) }
  }),
  plugins: [frame]
});

// ---------- ADX ----------
new Chart(document.getElementById('cAdx'), {
  type: 'line',
  data: { datasets: [
    line(adx, '#000', 2, { order: 1 }),
    line(plusDI, '#2e7d4f', 1.1, { order: 2 }),
    line(minusDI, '#a0143c', 1.1, { order: 3 })
  ] },
  options: baseOptions({
    scales: { x: xAxis(false, 0), y: yAxis(2.6, 48.1, range(5, 45, 5), [10, 20, 30, 40], v => String(v)) }
  }),
  plugins: [frame]
});

// ---------- Fast stochastics (%D(1) equals %K) ----------
new Chart(document.getElementById('cFast'), {
  type: 'line',
  data: { datasets: [
    line(fastK, '#100000', 1.4, { order: 1 }),
    line(fastK, '#e00000', 1.9, { order: 2 })
  ] },
  options: baseOptions({
    scales: { x: xAxis(false, 0), y: yAxis(-9, 109, range(0, 100, 10), [20, 50, 80], v => String(v)) },
    plugins: { legend: { display: false }, tooltip: { enabled: false },
      guides: { lines: [ { value: 80, color: '#707070' }, { value: 20, color: '#707070' }, { value: 50, color: '#808080', dash: DASHDOT } ] } }
  }),
  plugins: [guides, frame]
});

// ---------- Slow stochastics ----------
new Chart(document.getElementById('cSlow'), {
  type: 'line',
  data: { datasets: [
    line(slowK, '#000', 2, { order: 1 }),
    line(slowD, '#ff0000', 1.1, { order: 2 })
  ] },
  options: baseOptions({
    scales: { x: xAxis(false, 0), y: yAxis(-9, 109, range(0, 100, 10), [20, 50, 80], v => String(v)) },
    plugins: { legend: { display: false }, tooltip: { enabled: false },
      guides: { lines: [ { value: 80, color: '#707070' }, { value: 20, color: '#707070' }, { value: 50, color: '#808080', dash: DASHDOT } ] } }
  }),
  plugins: [guides, frame]
});

// ---------- ROC ----------
new Chart(document.getElementById('cRoc'), {
  type: 'line',
  data: { datasets: [ line(roc, '#000', 1.8) ] },
  options: baseOptions({
    layout: { padding: { left: 33, top: 0, bottom: 0, right: 0 } },
    scales: { x: xAxis(true, 20), y: yAxis(-8.5, 8.5, range(-7.5, 7.5, 2.5), range(-7.5, 7.5, 2.5), v => v.toFixed(1)) },
    plugins: { legend: { display: false }, tooltip: { enabled: false },
      guides: { lines: [ { value: 0, color: '#808080', dash: DASHDOT } ] } }
  }),
  plugins: [guides, frame]
});
</script>
</body>
</html>
